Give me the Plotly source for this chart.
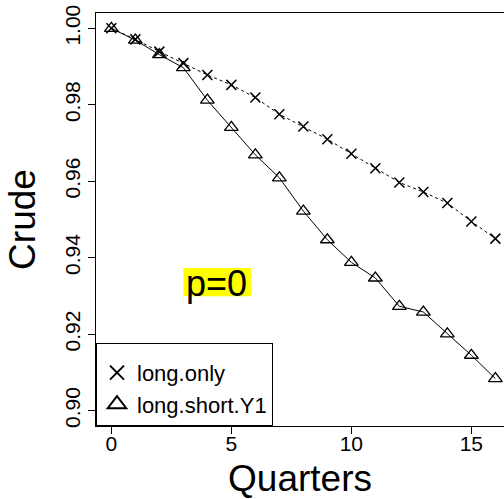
import plotly.graph_objects as go

quarters = list(range(17))
long_only = [1.0, 0.9971, 0.9939, 0.9909, 0.9878, 0.9852, 0.9819, 0.9775, 0.9743,
             0.9710, 0.9672, 0.9634, 0.9597, 0.9572, 0.9543, 0.9495, 0.9450]
long_short_y1 = [1.0, 0.9969, 0.9931, 0.9897, 0.9812, 0.9741, 0.9669, 0.9609, 0.9522,
                 0.9447, 0.9388, 0.9347, 0.9273, 0.9258, 0.9201, 0.9145, 0.9084]
series_names = ["long.only", "long.short.Y1"]
x_ticks = [0, 5, 10, 15]
y_ticks = [0.90, 0.92, 0.94, 0.96, 0.98, 1.00]
y_tick_labels = ["0.90", "0.92", "0.94", "0.96", "0.98", "1.00"]
label_text = "p=0"

FONT = "Liberation Sans, Arial, Helvetica, sans-serif"

fig = go.Figure()
fig.add_trace(go.Scatter(
    x=quarters, y=long_only, mode="lines+markers", showlegend=False,
    line=dict(color="black", width=1, dash="dot"),
    marker=dict(symbol="x-thin-open", size=10, color="black",
                line=dict(color="black", width=1.5)),
))
fig.add_trace(go.Scatter(
    x=quarters, y=long_short_y1, mode="lines+markers", showlegend=False,
    line=dict(color="black", width=1),
    marker=dict(symbol="triangle-up-open", size=12, color="black",
                line=dict(color="black", width=1.3)),
))
# legend entries (symbols only, like the R legend)
fig.add_trace(go.Scatter(
    x=[None], y=[None], mode="markers", name=series_names[0],
    marker=dict(symbol="x-thin-open", size=14, color="black",
                line=dict(color="black", width=2)),
))
fig.add_trace(go.Scatter(
    x=[None], y=[None], mode="markers", name=series_names[1],
    marker=dict(symbol="triangle-up-open", size=16, color="black",
                line=dict(color="black", width=2)),
))

# yellow highlight behind the label
fig.add_shape(type="rect", xref="x", yref="y", x0=3.0, x1=5.82,
              y0=0.92992, y1=0.93734, fillcolor="yellow", line=dict(width=0),
              layer="below")
fig.add_annotation(x=4.4, y=0.9336, xref="x", yref="y", text=label_text,
                   showarrow=False, font=dict(family=FONT, size=36, color="black"),
                   yshift=-1)

fig.update_layout(
    width=504, height=499,
    margin=dict(l=96, r=0, t=13, b=73),
    paper_bgcolor="white", plot_bgcolor="white",
    font=dict(family=FONT, color="black"),
    showlegend=True,
    legend=dict(x=0, y=0, xanchor="left", yanchor="bottom",
                bordercolor="black", borderwidth=1, bgcolor="white",
                entrywidth=142, entrywidthmode="pixels",
                font=dict(family=FONT, size=22, color="black"),
                title=dict(text=" ", font=dict(size=6))),
    xaxis=dict(range=[-0.64, 16.36], tickvals=x_ticks, ticks="outside", ticklen=7,
               tickcolor="black", showline=True, linecolor="black", linewidth=1,
               mirror=True, showgrid=False, zeroline=False, ticklabelstandoff=-8,
               tickfont=dict(family=FONT, size=21, color="black"),
               title=dict(text="Quarters", font=dict(family=FONT, size=37, color="black"),
                          standoff=19)),
    yaxis=dict(range=[0.896, 1.004], tickvals=y_ticks, ticktext=y_tick_labels,
               ticks="outside", ticklen=7, tickcolor="black", tickangle=-90,
               showline=True, linecolor="black", linewidth=1, mirror=False,
               showgrid=False, zeroline=False,
               tickfont=dict(family=FONT, size=21, color="black"),
               title=dict(text="Crude", font=dict(family=FONT, size=37, color="black"),
                          standoff=13)),
)

fig.write_html("out.html")
